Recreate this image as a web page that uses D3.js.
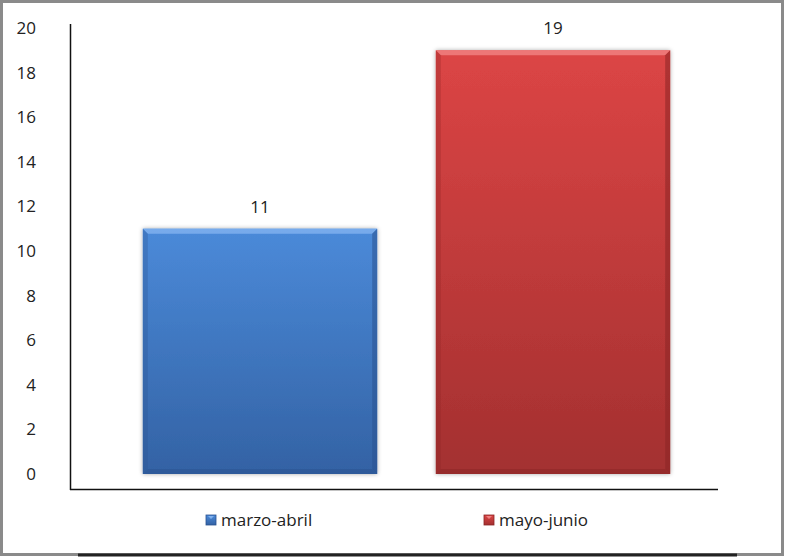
<!DOCTYPE html>
<html lang="es">
<head>
<meta charset="UTF-8">
<title>Chart</title>
<script src="https://cdn.jsdelivr.net/npm/d3@7"></script>
<style>
  html, body { margin: 0; background: #fff; overflow: hidden; }
  text { font-family: "Open Sans", "Noto Sans", sans-serif; fill: #222; }
</style>
</head>
<body>
<svg id="svg"></svg>
<script>
const categories = ['marzo-abril', 'mayo-junio'];
const values = [11, 19];
const yTicks = [0, 2, 4, 6, 8, 10, 12, 14, 16, 18, 20];
const colors = [
  { top: '#4b8ad9', bottom: '#3362a4', light: '#7fb0ee', dark: '#2a5290' },
  { top: '#dc4545', bottom: '#a33030', light: '#f08080', dark: '#8a2424' }
];

const width = 785, height = 558;
const svg = d3.select('#svg').attr('width', width).attr('height', height);

// outer frame
svg.append('rect').attr('x', 1.5).attr('y', 1.5).attr('width', 781).attr('height', 553)
  .attr('fill', '#fff').attr('stroke', '#8a8a8a').attr('stroke-width', 3);
svg.append('line').attr('x1', 78).attr('x2', 737).attr('y1', 555).attr('y2', 555)
  .attr('stroke', '#222').attr('stroke-width', 3);

const x = d3.scaleBand().domain(categories).range([113.5, 699.5])
  .paddingInner(0.2).paddingOuter(0.1);
const y = d3.scaleLinear().domain([0, 20]).range([474, 28]);

const defs = svg.append('defs');
colors.forEach((c, i) => {
  const g = defs.append('linearGradient').attr('id', 'grad' + i)
    .attr('x1', 0).attr('y1', 0).attr('x2', 0).attr('y2', 1);
  g.append('stop').attr('offset', '0%').attr('stop-color', c.top);
  g.append('stop').attr('offset', '100%').attr('stop-color', c.bottom);
});
const f = defs.append('filter').attr('id', 'shadow').attr('x', '-5%').attr('y', '-5%')
  .attr('width', '110%').attr('height', '110%');
f.append('feDropShadow').attr('dx', 0).attr('dy', 0).attr('stdDeviation', 2)
  .attr('flood-color', '#000').attr('flood-opacity', 0.35);

// axes lines (offset below the zero line, like the original)
svg.append('line').attr('x1', 70.5).attr('x2', 70.5).attr('y1', 24).attr('y2', 490)
  .attr('stroke', '#111').attr('stroke-width', 1.5);
svg.append('line').attr('x1', 70).attr('x2', 718).attr('y1', 489.5).attr('y2', 489.5)
  .attr('stroke', '#111').attr('stroke-width', 1.5);

// y tick labels
svg.append('g').selectAll('text').data(yTicks).join('text')
  .attr('x', 36).attr('y', d => y(d)).attr('dy', '0.35em')
  .attr('text-anchor', 'end').attr('font-size', 17).text(d => d);

// bars with bevel
const bev = 5;
const bars = svg.append('g').selectAll('g').data(values).join('g');
bars.append('rect')
  .attr('x', (d, i) => x(categories[i])).attr('y', d => y(d))
  .attr('width', x.bandwidth()).attr('height', d => y(0) - y(d))
  .attr('fill', (d, i) => `url(#grad${i})`).attr('filter', 'url(#shadow)');
bars.each(function (d, i) {
  const g = d3.select(this);
  const x0 = x(categories[i]), x1 = x0 + x.bandwidth();
  const y0 = y(d), y1 = y(0);
  const c = colors[i];
  g.append('path')
    .attr('d', `M${x0},${y0}L${x1},${y0}L${x1 - bev},${y0 + bev}L${x0 + bev},${y0 + bev}Z`)
    .attr('fill', c.light).attr('opacity', 0.85);
  g.append('path')
    .attr('d', `M${x1},${y0}L${x1},${y1}L${x1 - bev},${y1 - bev}L${x1 - bev},${y0 + bev}Z`)
    .attr('fill', c.dark).attr('opacity', 0.55);
  g.append('path')
    .attr('d', `M${x0},${y0}L${x0},${y1}L${x0 + bev},${y1 - bev}L${x0 + bev},${y0 + bev}Z`)
    .attr('fill', c.dark).attr('opacity', 0.3);
  g.append('path')
    .attr('d', `M${x0},${y1}L${x1},${y1}L${x1 - bev},${y1 - bev}L${x0 + bev},${y1 - bev}Z`)
    .attr('fill', c.dark).attr('opacity', 0.5);
});

// value labels
svg.append('g').selectAll('text').data(values).join('text')
  .attr('x', (d, i) => x(categories[i]) + x.bandwidth() / 2)
  .attr('y', d => y(d) - 22).attr('dy', '0.35em')
  .attr('text-anchor', 'middle').attr('font-size', 17).text(d => d);

// legend
const legendX = [206, 484];
const lg = svg.append('g').selectAll('g').data(categories).join('g')
  .attr('transform', (d, i) => `translate(${legendX[i]},515)`);
lg.append('rect').attr('width', 10).attr('height', 10)
  .attr('fill', (d, i) => `url(#grad${i})`).attr('stroke', (d, i) => colors[i].dark).attr('stroke-width', 0.8);
lg.append('path').attr('d', 'M2,1L8,1L5,4Z').attr('fill', (d, i) => colors[i].light);
lg.append('text').attr('x', 15).attr('y', 5).attr('dy', '0.35em')
  .attr('font-size', 17).text(d => d);
</script>
</body>
</html>
